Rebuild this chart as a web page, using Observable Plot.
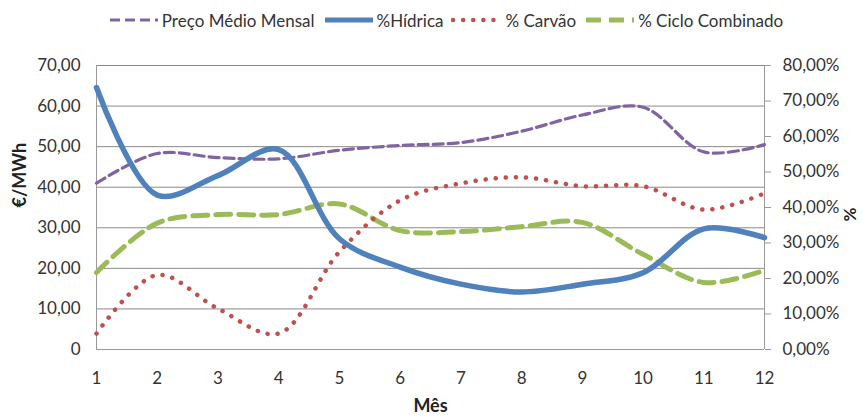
<!DOCTYPE html>
<html>
<head>
<meta charset="utf-8">
<script src="https://cdn.jsdelivr.net/npm/d3@7"></script>
<script src="https://cdn.jsdelivr.net/npm/@observablehq/plot@0.6"></script>
<style>
  html, body { margin: 0; padding: 0; background: #fff; }
  #legend { height: 40px; display: flex; align-items: center; justify-content: center; padding-left: 36px; box-sizing: border-box;
            font-family: Lato, "Open Sans", sans-serif; font-size: 17px; color: #333; width: 863px; }
  .item { display: flex; align-items: center; margin-right: 8px; }
  .item svg { margin-right: 2px; }
</style>
</head>
<body>
<div id="legend"></div>
<div id="chart"></div>
<script>
const months = [1, 2, 3, 4, 5, 6, 7, 8, 9, 10, 11, 12];
const preco = [41.0, 48.3, 47.3, 47.0, 49.1, 50.3, 51.0, 53.8, 57.8, 59.7, 48.7, 50.5];   // €/MWh
const hidrica = [73.8, 43.5, 49.0, 56.3, 31.2, 23.2, 18.4, 16.2, 18.4, 21.6, 34.0, 31.5]; // %
const carvao = [4.5, 21.0, 11.5, 4.5, 27.5, 42.0, 46.8, 48.5, 46.0, 46.0, 39.4, 44.0];    // %
const ciclo = [21.7, 35.6, 38.0, 38.0, 41.0, 33.5, 33.2, 34.6, 35.8, 26.8, 18.9, 22.3];   // %
const leftTicks = [0, 10, 20, 30, 40, 50, 60, 70];
const rightTicks = [0, 10, 20, 30, 40, 50, 60, 70, 80];
const seriesNames = ["Preço Médio Mensal", "%Hídrica", "% Carvão", "% Ciclo Combinado"];
const colors = ["#8064A2", "#4F81BD", "#C0504D", "#9BBB59"];

const LEFT_MAX = 70, RIGHT_MAX = 80;
const toLeft = p => p * LEFT_MAX / RIGHT_MAX;

const rows = arr => months.map((m, i) => ({m, v: arr[i]}));
const styles = [
  {stroke: colors[0], strokeWidth: 3.2, strokeDasharray: "10 5"},
  {stroke: colors[1], strokeWidth: 5.5},
  {stroke: colors[2], strokeWidth: 4.5, strokeDasharray: "0.1 10", strokeLinecap: "round"},
  {stroke: colors[3], strokeWidth: 5, strokeDasharray: "15 8"}
];

// legend
const legend = document.getElementById("legend");
seriesNames.forEach((name, i) => {
  const s = styles[i];
  const item = document.createElement("div");
  item.className = "item";
  item.innerHTML = `<svg width="52" height="12"><line x1="2" x2="50" y1="6" y2="6" stroke="${s.stroke}" stroke-width="${Math.min(s.strokeWidth, 5)}" ${s.strokeDasharray ? `stroke-dasharray="${s.strokeDasharray}"` : ""} ${s.strokeLinecap ? `stroke-linecap="${s.strokeLinecap}"` : ""}/></svg><span>${name}</span>`;
  legend.appendChild(item);
});

const fmtLeft = d => d === 0 ? "0" : d.toFixed(2).replace(".", ",");
const fmtRight = d => Math.round(d * RIGHT_MAX / LEFT_MAX).toFixed(2).replace(".", ",") + "%";

const chart = Plot.plot({
  width: 863,
  height: 379,
  marginTop: 25,
  marginBottom: 70,
  marginLeft: 96,
  marginRight: 99,
  style: {fontFamily: "Lato, 'Open Sans', sans-serif", fontSize: "17px", color: "#333", background: "#fff"},
  x: {domain: [1, 12]},
  y: {domain: [0, LEFT_MAX]},
  marks: [
    Plot.gridY(leftTicks, {stroke: "#8a8a8a", strokeOpacity: 1}),
    Plot.ruleX([1, 12], {stroke: "#9a9a9a"}),
    Plot.ruleY([0], {stroke: "#9a9a9a"}),
    Plot.axisY(leftTicks, {anchor: "left", tickSize: 0, tickPadding: 16, tickFormat: fmtLeft, label: null}),
    Plot.axisY(rightTicks.map(toLeft), {anchor: "right", tickSize: 6, tickPadding: 12, stroke: "#9a9a9a", tickFormat: fmtRight, label: null}),
    Plot.axisX(months, {tickSize: 0, tickPadding: 22, label: null}),
    Plot.text(["€/MWh"], {frameAnchor: "left", dx: -76, rotate: -90, fontWeight: "bold", fontSize: 18, fill: "#222"}),
    Plot.text(["%"], {frameAnchor: "right", dx: 86, rotate: -90, fontWeight: "bold", fontSize: 17, fill: "#222"}),
    Plot.text(["Mês"], {frameAnchor: "bottom", dy: 62, fontWeight: "bold", fontSize: 18, fill: "#222"}),
    Plot.line(rows(ciclo), {x: "m", y: d => toLeft(d.v), curve: "catmull-rom", ...styles[3]}),
    Plot.line(rows(carvao), {x: "m", y: d => toLeft(d.v), curve: "catmull-rom", ...styles[2]}),
    Plot.line(rows(preco), {x: "m", y: "v", curve: "catmull-rom", ...styles[0]}),
    Plot.line(rows(hidrica), {x: "m", y: d => toLeft(d.v), curve: "catmull-rom", ...styles[1]})
  ]
});
document.getElementById("chart").appendChild(chart);
</script>
</body>
</html>
